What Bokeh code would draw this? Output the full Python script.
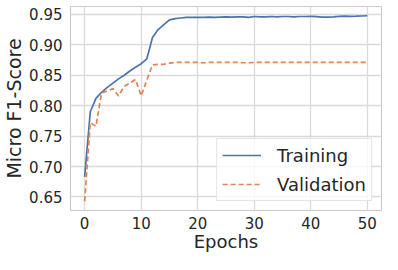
from bokeh.plotting import figure
from bokeh.models import FixedTicker, NumeralTickFormatter, Range1d, Legend, LegendItem
from bokeh.embed import file_html
from bokeh.resources import INLINE

epochs = list(range(51))
training = [0.683, 0.790, 0.812, 0.822, 0.830, 0.837, 0.844, 0.850, 0.857, 0.863,
            0.869, 0.877, 0.912, 0.925, 0.933, 0.941, 0.943, 0.944, 0.945, 0.945,
            0.945, 0.945, 0.9455, 0.945, 0.9455, 0.946, 0.9455, 0.946, 0.946, 0.945,
            0.9465, 0.946, 0.946, 0.9465, 0.946, 0.9465, 0.9465, 0.946, 0.9465, 0.9465,
            0.9468, 0.9462, 0.9455, 0.9455, 0.946, 0.9468, 0.947, 0.9468, 0.947, 0.9473,
            0.9477]
validation = [0.643, 0.772, 0.766, 0.821, 0.824, 0.828, 0.816, 0.832, 0.837, 0.843,
              0.816, 0.842, 0.867, 0.868, 0.868, 0.870, 0.871, 0.871, 0.871, 0.871,
              0.871, 0.8705, 0.871, 0.871, 0.871, 0.871, 0.871, 0.871, 0.8705, 0.8705,
              0.871, 0.871, 0.871, 0.871, 0.871, 0.871, 0.871, 0.871, 0.871, 0.871,
              0.871, 0.871, 0.871, 0.871, 0.871, 0.871, 0.871, 0.871, 0.871, 0.871,
              0.871]
x_ticks = [0, 10, 20, 30, 40, 50]
y_ticks = [0.65, 0.70, 0.75, 0.80, 0.85, 0.90, 0.95]
series_names = ["Training", "Validation"]

ymin = min(min(training), min(validation))
ymax = max(max(training), max(validation))
ypad = 0.05 * (ymax - ymin)
xpad = 0.05 * (epochs[-1] - epochs[0])

p = figure(width=382, height=254, output_backend="svg", toolbar_location=None,
           x_range=Range1d(epochs[0] - xpad, epochs[-1] + xpad),
           y_range=Range1d(ymin - ypad, ymax + ypad),
           min_border_top=6, min_border_right=1, min_border_left=0, min_border_bottom=0)

r1 = p.line(epochs, training, line_color="#4c72b0", line_width=1.7)
r2 = p.line(epochs, validation, line_color="#dd8452", line_width=1.7, line_dash="5 3")

p.background_fill_color = "white"
p.border_fill_color = "white"
p.outline_line_color = "#cccccc"
p.outline_line_width = 1.2

for g in (p.xgrid, p.ygrid):
    g.grid_line_color = "#dadada"
    g.grid_line_width = 1.3
p.xgrid.ticker = FixedTicker(ticks=x_ticks)
p.ygrid.ticker = FixedTicker(ticks=y_ticks)

p.xaxis.ticker = FixedTicker(ticks=x_ticks)
p.yaxis.ticker = FixedTicker(ticks=y_ticks)
p.yaxis.formatter = NumeralTickFormatter(format="0.00")

for ax in (p.xaxis, p.yaxis):
    ax.axis_line_color = None
    ax.major_tick_line_color = None
    ax.minor_tick_line_color = None
    ax.major_tick_in = 0
    ax.major_tick_out = 0
    ax.minor_tick_in = 0
    ax.minor_tick_out = 0
    ax.major_label_text_font = "DejaVu Sans"
    ax.major_label_text_font_size = "15px"
    ax.major_label_text_color = "#262626"
    ax.axis_label_text_font = "DejaVu Sans"
    ax.axis_label_text_font_style = "normal"
    ax.axis_label_text_color = "#262626"

p.xaxis.major_label_standoff = 6
p.yaxis.major_label_standoff = 8
p.xaxis.axis_label = "Epochs"
p.xaxis.axis_label_text_font_size = "18px"
p.xaxis.axis_label_standoff = -1
p.yaxis.axis_label = "Micro F1-Score"
p.yaxis.axis_label_text_font_size = "19px"
p.yaxis.axis_label_standoff = 1

legend = Legend(items=[LegendItem(label=series_names[0], renderers=[r1]),
                       LegendItem(label=series_names[1], renderers=[r2])],
                location="bottom_right")
legend.label_text_font = "DejaVu Sans"
legend.label_text_font_size = "18px"
legend.label_text_color = "#262626"
legend.glyph_width = 39
legend.glyph_height = 22
legend.label_height = 22
legend.label_standoff = 16
legend.spacing = 7
legend.padding = 5
legend.margin = 9
legend.border_line_color = "#cccccc"
legend.border_line_width = 1
legend.background_fill_color = "white"
legend.background_fill_alpha = 0.8
p.add_layout(legend, "center")

open("out.html", "w").write(file_html(p, INLINE))
